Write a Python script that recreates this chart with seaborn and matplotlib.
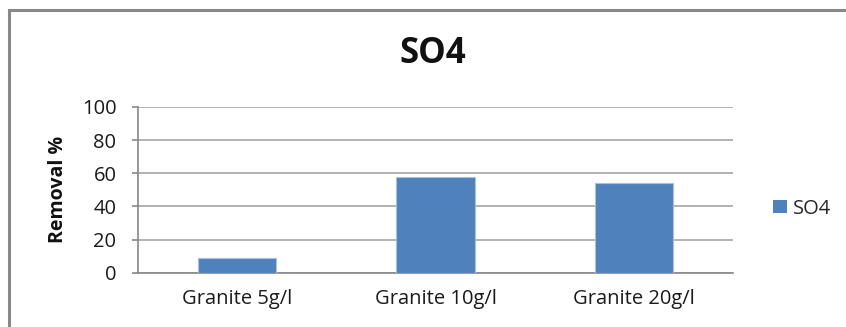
import matplotlib
matplotlib.use("Agg")
import matplotlib.pyplot as plt
from matplotlib.patches import Rectangle
from matplotlib.lines import Line2D
from matplotlib.ticker import FixedLocator
import seaborn as sns
import pandas as pd

categories = ["Granite 5g/l", "Granite 10g/l", "Granite 20g/l"]
so4_removal = [9, 58, 54]
series_name = "SO4"
y_ticks = [0, 20, 40, 60, 80, 100]

df = pd.DataFrame({"category": categories, "value": so4_removal,
                   "series": [series_name] * len(categories)})

sns.set_theme(style="white")
plt.rcParams["font.family"] = ["Open Sans", "DejaVu Sans"]

W, H = 846, 327
fig = plt.figure(figsize=(W / 100, H / 100), dpi=100)
ax = fig.add_axes([138 / W, 1 - 272.7 / H, (733 - 138) / W, (272.7 - 107) / H])

bar_color = "#4F81BD"
grid_color = "#A6A6A6"
axis_color = "#888888"
text_color = "#1a1a1a"

sns.barplot(data=df, x="category", y="value", hue="series",
            palette=[bar_color], saturation=1, width=0.395, ax=ax,
            edgecolor="#A7C0DE", linewidth=0.8, legend=False, zorder=3)

ax.set_ylim(0, 100)
ax.set_xlim(-0.5, len(categories) - 0.5)
ax.set_yticks(y_ticks)
ax.set_yticklabels([str(t) for t in y_ticks], fontsize=14.5, color=text_color)
ax.yaxis.grid(True, color=grid_color, linewidth=1.2, zorder=0)
ax.set_axisbelow(True)

ax.tick_params(axis="x", which="major", length=0, labelsize=14.5,
               labelcolor=text_color, pad=12)
ax.xaxis.set_minor_locator(FixedLocator([i + 0.5 for i in range(len(categories))]))
ax.tick_params(axis="x", which="minor", length=4.5, width=1.2, color=axis_color,
               direction="out")
ax.tick_params(axis="y", length=4.5, width=1.2, color=axis_color, direction="out",
               left=True, pad=11)

for side in ["top", "right"]:
    ax.spines[side].set_visible(False)
for side in ["left", "bottom"]:
    ax.spines[side].set_color(axis_color)
    ax.spines[side].set_linewidth(1.2)

ax.set_xlabel("")
ax.set_ylabel("Removal %", fontsize=14, fontweight="bold", labelpad=10,
              color="#111111")

fig.text(433 / W, 1 - 54 / H, "SO4", ha="center", va="center",
         fontsize=25, fontweight="bold", color="#111111")

handle = Rectangle((0, 0), 1, 1, facecolor=bar_color, edgecolor="none")
fig.legend([handle], [series_name], loc="center left",
           bbox_to_anchor=(763 / W, 1 - 208.5 / H), frameon=False,
           fontsize=14.5, handlelength=0.68, handleheight=0.68,
           handletextpad=0.3, borderpad=0)

# chart area frame: only its top and left edges fall inside the image
fx, fy = 8.7 / W, 1 - 10 / H
for xs, ys in [([fx, 1.0], [fy, fy]), ([fx, fx], [fy, 0.0])]:
    fig.add_artist(Line2D(xs, ys, transform=fig.transFigure,
                          color="#888888", linewidth=2.2,
                          solid_capstyle="projecting"))

fig.savefig("out.png", dpi=100, facecolor="white")
